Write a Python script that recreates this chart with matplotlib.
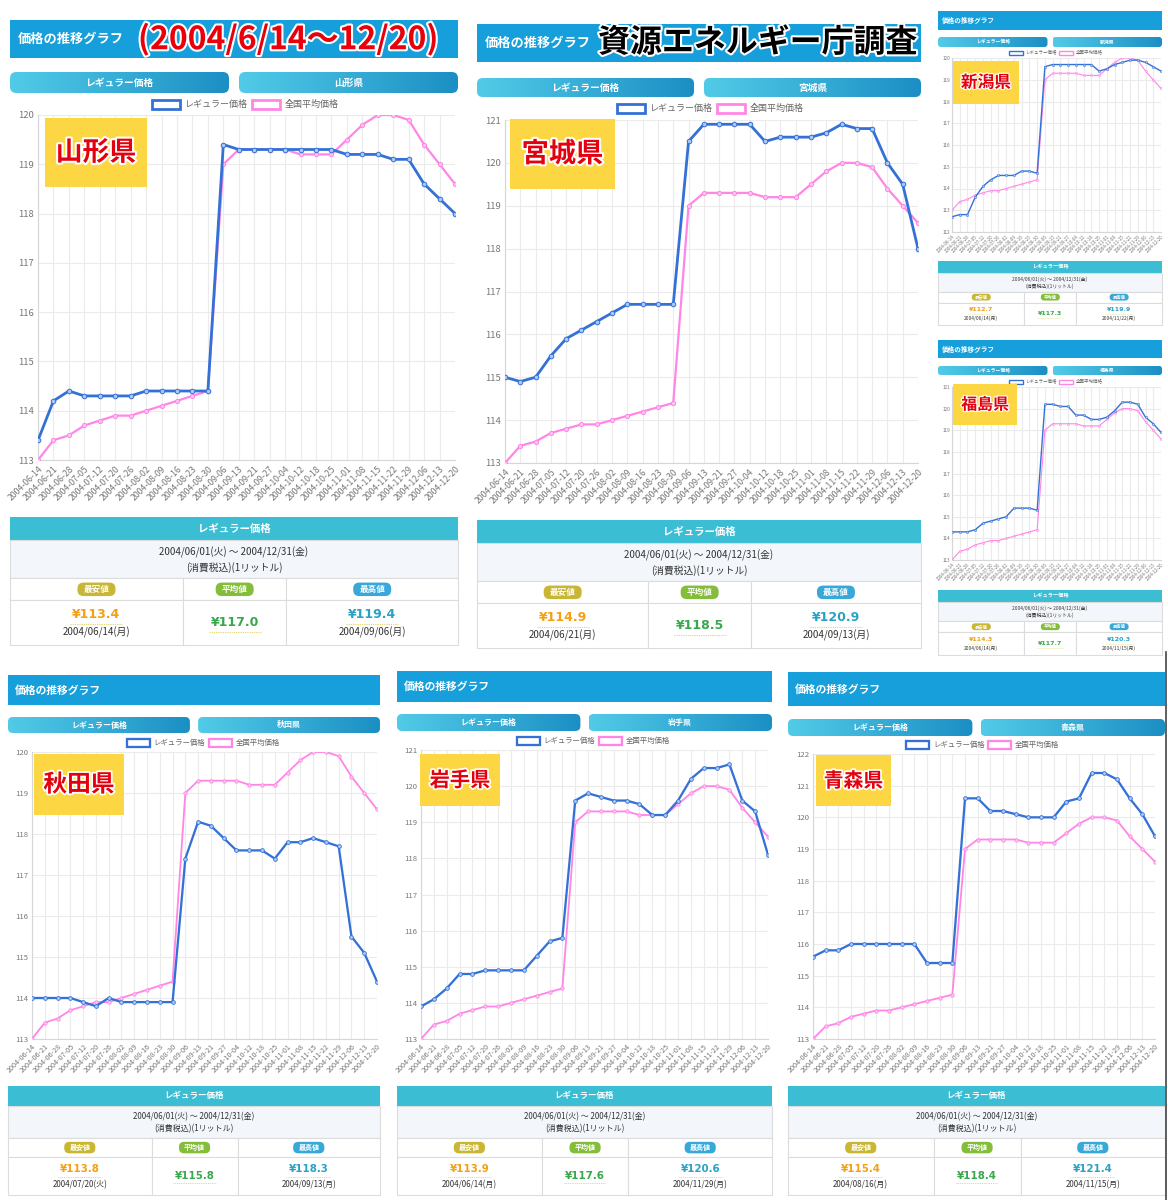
import matplotlib
matplotlib.use("Agg")
import matplotlib.pyplot as plt
import matplotlib.patheffects as pe
from matplotlib.patches import Rectangle, FancyBboxPatch
from matplotlib.colors import LinearSegmentedColormap
import numpy as np

plt.rcParams['font.family'] = ['Noto Sans CJK JP', 'DejaVu Sans']

# --- data ---
dates = ["2004-06-14", "2004-06-21", "2004-06-28", "2004-07-05", "2004-07-12", "2004-07-20",
         "2004-07-26", "2004-08-02", "2004-08-09", "2004-08-16", "2004-08-23", "2004-08-30",
         "2004-09-06", "2004-09-13", "2004-09-21", "2004-09-27", "2004-10-04", "2004-10-12",
         "2004-10-18", "2004-10-25", "2004-11-01", "2004-11-08", "2004-11-15", "2004-11-22",
         "2004-11-29", "2004-12-06", "2004-12-13", "2004-12-20"]

national = [113.0, 113.4, 113.5, 113.7, 113.8, 113.9, 113.9, 114.0, 114.1, 114.2, 114.3, 114.4,
            119.0, 119.3, 119.3, 119.3, 119.3, 119.2, 119.2, 119.2, 119.5, 119.8, 120.0, 120.0,
            119.9, 119.4, 119.0, 118.6]

yamagata = [113.4, 114.2, 114.4, 114.3, 114.3, 114.3, 114.3, 114.4, 114.4, 114.4, 114.4, 114.4,
            119.4, 119.3, 119.3, 119.3, 119.3, 119.3, 119.3, 119.3, 119.2, 119.2, 119.2, 119.1,
            119.1, 118.6, 118.3, 118.0]
miyagi = [115.0, 114.9, 115.0, 115.5, 115.9, 116.1, 116.3, 116.5, 116.7, 116.7, 116.7, 116.7,
          120.5, 120.9, 120.9, 120.9, 120.9, 120.5, 120.6, 120.6, 120.6, 120.7, 120.9, 120.8,
          120.8, 120.0, 119.5, 118.0]
niigata = [112.7, 112.8, 112.8, 113.6, 114.1, 114.4, 114.6, 114.6, 114.6, 114.8, 114.8, 114.7,
           119.6, 119.7, 119.7, 119.7, 119.7, 119.7, 119.7, 119.4, 119.5, 119.7, 119.8, 119.9,
           119.9, 119.8, 119.6, 119.4]
fukushima = [114.3, 114.3, 114.3, 114.4, 114.7, 114.8, 114.9, 115.0, 115.4, 115.4, 115.4, 115.3,
             120.2, 120.2, 120.1, 120.1, 119.7, 119.7, 119.5, 119.5, 119.6, 119.9, 120.3, 120.3,
             120.2, 119.6, 119.3, 118.9]
akita = [114.0, 114.0, 114.0, 114.0, 113.9, 113.8, 114.0, 113.9, 113.9, 113.9, 113.9, 113.9,
         117.4, 118.3, 118.2, 117.9, 117.6, 117.6, 117.6, 117.4, 117.8, 117.8, 117.9, 117.8,
         117.7, 115.5, 115.1, 114.4]
iwate = [113.9, 114.1, 114.4, 114.8, 114.8, 114.9, 114.9, 114.9, 114.9, 115.3, 115.7, 115.8,
         119.6, 119.8, 119.7, 119.6, 119.6, 119.5, 119.2, 119.2, 119.6, 120.2, 120.5, 120.5,
         120.6, 119.6, 119.3, 118.1]
aomori = [115.6, 115.8, 115.8, 116.0, 116.0, 116.0, 116.0, 116.0, 116.0, 115.4, 115.4, 115.4,
          120.6, 120.6, 120.2, 120.2, 120.1, 120.0, 120.0, 120.0, 120.5, 120.6, 121.4, 121.4,
          121.2, 120.6, 120.1, 119.4]

prefs = ["山形県", "宮城県", "新潟県", "福島県", "秋田県", "岩手県", "青森県"]
series = [yamagata, miyagi, niigata, fukushima, akita, iwate, aomori]
y_ranges = [(113, 120), (113, 121), (112, 120), (113, 121), (113, 120), (113, 121), (113, 122)]
min_vals = ["¥113.4", "¥114.9", "¥112.7", "¥114.3", "¥113.8", "¥113.9", "¥115.4"]
min_dates = ["2004/06/14(月)", "2004/06/21(月)", "2004/06/14(月)", "2004/06/14(月)",
             "2004/07/20(火)", "2004/06/14(月)", "2004/08/16(月)"]
avg_vals = ["¥117.0", "¥118.5", "¥117.3", "¥117.7", "¥115.8", "¥117.6", "¥118.4"]
max_vals = ["¥119.4", "¥120.9", "¥119.9", "¥120.3", "¥118.3", "¥120.6", "¥121.4"]
max_dates = ["2004/09/06(月)", "2004/09/13(月)", "2004/11/22(月)", "2004/11/15(月)",
             "2004/09/13(月)", "2004/11/29(月)", "2004/11/15(月)"]

# --- layout in pixels (x0, x1, header, tabs, legend_y, chart l,t,r,b, table t,b, scale, label box) ---
layout = [
    dict(x=(10, 458), hd=(20, 58), tb=(72, 93), lg=104, ch=(38, 115, 455, 460), tt=(517, 645), s=1.0, lb=(45, 118, 147, 187)),
    dict(x=(477, 921), hd=(24, 62), tb=(78, 97), lg=108, ch=(505, 120, 918, 463), tt=(520, 648), s=1.0, lb=(510, 119, 615, 189)),
    dict(x=(938, 1162), hd=(11, 30), tb=(37, 47), lg=53, ch=(952, 58, 1161, 232), tt=(261, 325), s=0.5, lb=(953, 61, 1019, 104)),
    dict(x=(938, 1162), hd=(340, 358), tb=(366, 375), lg=382, ch=(952, 387, 1161, 560), tt=(590, 655), s=0.5, lb=(953, 384, 1017, 425)),
    dict(x=(8, 380), hd=(675, 705), tb=(717, 733), lg=743, ch=(32, 752, 377, 1039), tt=(1086, 1195), s=0.82, lb=(34, 754, 124, 815)),
    dict(x=(397, 772), hd=(671, 702), tb=(714, 731), lg=741, ch=(421, 750, 768, 1039), tt=(1086, 1195), s=0.82, lb=(420, 754, 500, 806)),
    dict(x=(788, 1165), hd=(672, 706), tb=(719, 736), lg=745, ch=(813, 754, 1155, 1039), tt=(1086, 1195), s=0.82, lb=(816, 755, 891, 806)),
]

BLUE = '#3471d6'
PINK = '#ff86e6'
W, H = 1168, 1200
fig = plt.figure(figsize=(W / 100, H / 100), dpi=100)
fig.patch.set_facecolor('white')

ov = fig.add_axes([0, 0, 1, 1], label='overlay', zorder=10)
ov.set_xlim(0, W)
ov.set_ylim(H, 0)
ov.set_autoscale_on(False)
ov.axis('off')
ov.patch.set_alpha(0)

tab_cmap = LinearSegmentedColormap.from_list('tab', ['#52cbe8', '#1b8fc4'])
grad = np.linspace(0, 1, 256).reshape(1, -1)


def tab(x0, x1, y0, y1, text, s):
    p = FancyBboxPatch((x0, y0), x1 - x0, y1 - y0,
                       boxstyle=f"round,pad=0,rounding_size={(y1 - y0) * 0.3}", fc='none', ec='none')
    ov.add_patch(p)
    im = ov.imshow(grad, extent=(x0, x1, y1, y0), cmap=tab_cmap, aspect='auto', zorder=1)
    im.set_clip_path(p)
    ov.text((x0 + x1) / 2, (y0 + y1) / 2, text, color='white', fontsize=7 * s, fontweight='bold',
            ha='center', va='center', zorder=2)


def table(i, x0, x1, y0, y1, s):
    h = y1 - y0
    w = x1 - x0
    ys = [y0, y0 + 0.18 * h, y0 + 0.48 * h, y0 + 0.65 * h, y1]
    ov.add_patch(Rectangle((x0, ys[0]), w, ys[1] - ys[0], fc='#3bbdd4', ec='none'))
    ov.text((x0 + x1) / 2, (ys[0] + ys[1]) / 2, 'レギュラー価格', color='white', fontsize=7.5 * s,
            fontweight='bold', ha='center', va='center')
    ov.add_patch(Rectangle((x0, ys[1]), w, ys[2] - ys[1], fc='#f3f6fb', ec='#dcdcdc', lw=0.8))
    mid = ys[1] + (ys[2] - ys[1]) * 0.33
    ov.text((x0 + x1) / 2, mid, '2004/06/01(火) ～ 2004/12/31(金)', color='#333333', fontsize=7 * s,
            ha='center', va='center')
    ov.text((x0 + x1) / 2, ys[1] + (ys[2] - ys[1]) * 0.72, '(消費税込)(1リットル)', color='#333333',
            fontsize=7 * s, ha='center', va='center')
    cols = [x0, x0 + 0.386 * w, x0 + 0.617 * w, x1]
    badges = ['最安値', '平均値', '最高値']
    bcol = ['#c8b634', '#84bd3a', '#38a8d8']
    vcol = ['#f4a012', '#38a84c', '#2aa2c4']
    vals = [min_vals[i], avg_vals[i], max_vals[i]]
    sub = [min_dates[i], None, max_dates[i]]
    for c in range(3):
        for r in (2, 3):
            ov.add_patch(Rectangle((cols[c], ys[r]), cols[c + 1] - cols[c], ys[r + 1] - ys[r],
                                   fc='white', ec='#dcdcdc', lw=0.8))
        cx = (cols[c] + cols[c + 1]) / 2
        bh = (ys[3] - ys[2]) * 0.62
        bw = 38 * s
        by = (ys[2] + ys[3]) / 2
        ov.add_patch(FancyBboxPatch((cx - bw / 2, by - bh / 2), bw, bh,
                                    boxstyle=f"round,pad=0,rounding_size={bh * 0.45}",
                                    fc=bcol[c], ec='none'))
        ov.text(cx, by, badges[c], color='white', fontsize=6.2 * s, fontweight='bold',
                ha='center', va='center')
        if sub[c] is None:
            vy = (ys[3] + ys[4]) / 2
        else:
            vy = ys[3] + (ys[4] - ys[3]) * 0.33
            ov.text(cx, ys[3] + (ys[4] - ys[3]) * 0.72, sub[c], color='#333333', fontsize=7 * s,
                    ha='center', va='center')
        ov.text(cx, vy, vals[c], color=vcol[c], fontsize=9 * s, fontweight='bold',
                ha='center', va='center', family=['DejaVu Sans'])
        ov.plot([cx - 26 * s, cx + 26 * s], [vy + 9 * s, vy + 9 * s], color='#e2d36a', lw=0.8 * s,
                ls=(0, (1, 1)))


for i, L in enumerate(layout):
    s = L['s']
    x0, x1 = L['x']
    # header bar
    hy0, hy1 = L['hd']
    ov.add_patch(Rectangle((x0, hy0), x1 - x0, hy1 - hy0, fc='#169fdb', ec='none'))
    ov.text(x0 + 8 * s, (hy0 + hy1) / 2, '価格の推移グラフ', color='white', fontsize=9.5 * s,
            fontweight='bold', ha='left', va='center')
    # tabs
    ty0, ty1 = L['tb']
    gap = 10 * s
    midx = (x0 + x1) / 2
    tab(x0, midx - gap / 2, ty0, ty1, 'レギュラー価格', s)
    tab(midx + gap / 2, x1, ty0, ty1, prefs[i], s)
    # legend
    l, t, r, b = L['ch']
    lx = (l + r) / 2
    ly = L['lg']
    bw, bh = 28 * s, 9 * s
    ov.add_patch(Rectangle((lx - 95 * s, ly - bh / 2), bw, bh, fc='white', ec=BLUE, lw=2 * s))
    ov.text(lx - 62 * s, ly, 'レギュラー価格', color='#666666', fontsize=6.5 * s, ha='left', va='center')
    ov.add_patch(Rectangle((lx + 5 * s, ly - bh / 2), bw, bh, fc='white', ec=PINK, lw=2 * s))
    ov.text(lx + 38 * s, ly, '全国平均価格', color='#666666', fontsize=6.5 * s, ha='left', va='center')

    # chart
    ax = fig.add_axes([l / W, 1 - b / H, (r - l) / W, (b - t) / H], zorder=2)
    xs = np.arange(len(dates))
    ax.plot(xs, national, color=PINK, lw=1.6 * s, marker='o', ms=3.0 * s, mfc='#ffc4f2',
            mec=PINK, mew=0.7 * s, zorder=3)
    ax.plot(xs, series[i], color=BLUE, lw=2.0 * s, marker='o', ms=3.3 * s, mfc='#a9c9f3',
            mec=BLUE, mew=0.7 * s, zorder=4)
    lo, hi = y_ranges[i]
    ax.set_ylim(lo, hi)
    ax.set_xlim(0, len(dates) - 1)
    ax.set_yticks(range(lo, hi + 1))
    ax.set_xticks(xs)
    ax.set_xticklabels(dates, rotation=45, ha='right', rotation_mode='anchor')
    ax.tick_params(axis='both', colors='#777777', labelsize=6.3 * s, length=0, pad=3 * s)
    ax.tick_params(axis='y', labelsize=6.8 * s)
    ax.grid(True, color='#ebebeb', lw=0.8)
    for sp in ('top', 'right'):
        ax.spines[sp].set_visible(False)
    for sp in ('left', 'bottom'):
        ax.spines[sp].set_color('#d6d6d6')

    # prefecture label
    bx0, by0, bx1, by1 = L['lb']
    ov.add_patch(Rectangle((bx0, by0), bx1 - bx0, by1 - by0, fc='#fdd743', ec='none', zorder=3))
    ov.text((bx0 + bx1) / 2, (by0 + by1) / 2, prefs[i], color='#e3000f', fontsize=(by1 - by0) * 0.28,
            fontweight='bold', ha='center', va='center', zorder=4,
            path_effects=[pe.withStroke(linewidth=2.5 * s + 0.5, foreground='white')])

    # statistics table
    table(i, x0, x1, L['tt'][0], L['tt'][1], s)

# overlaid captions on top panels
ov.text(288, 40, '(2004/6/14～12/20)', color='#e8000b', fontsize=23, fontweight='bold',
        ha='center', va='center', zorder=5, family=['Noto Sans CJK JP', 'DejaVu Sans'],
        path_effects=[pe.withStroke(linewidth=3, foreground='white')])
ov.text(758, 43, '資源エネルギー庁調査', color='black', fontsize=23, fontweight='bold',
        ha='center', va='center', zorder=5,
        path_effects=[pe.withStroke(linewidth=3, foreground='white')])

ov.plot([1166, 1166], [652, 1200], color='#444444', lw=1.2)

fig.savefig('out.png', dpi=100, facecolor='white')
